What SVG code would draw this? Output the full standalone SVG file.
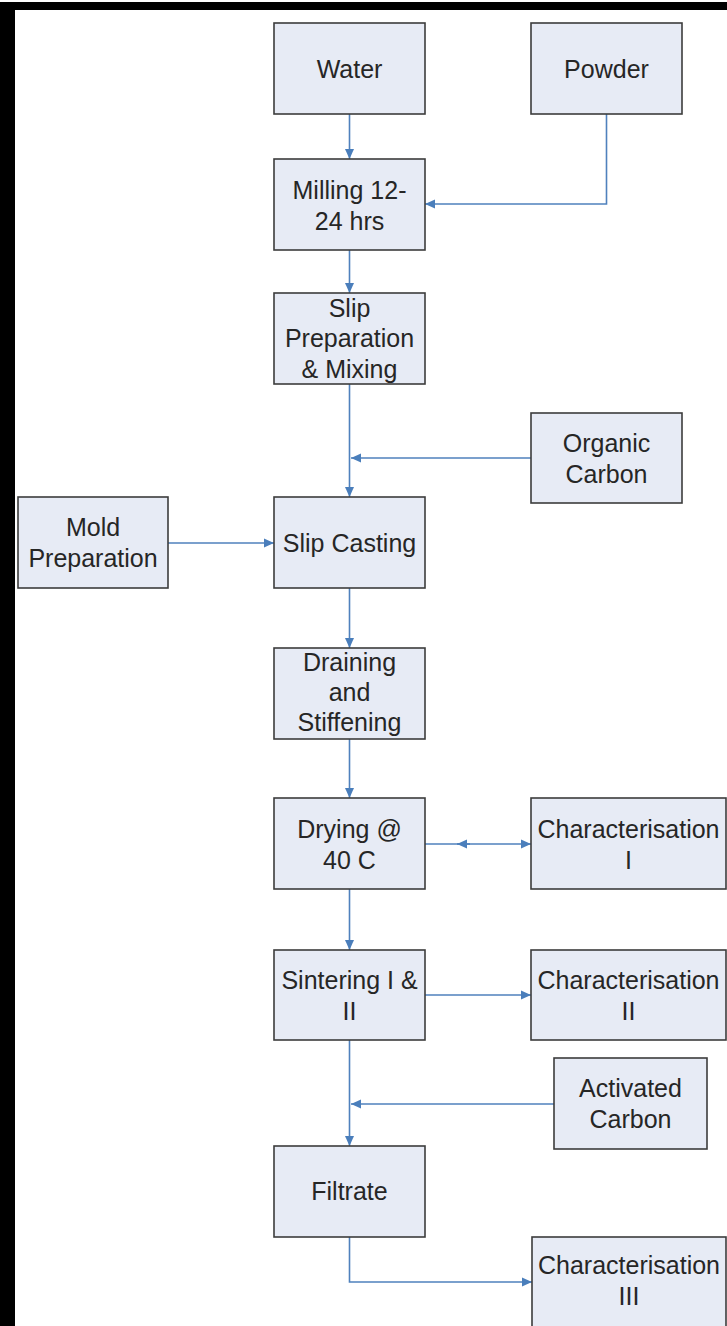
<svg xmlns="http://www.w3.org/2000/svg" width="727" height="1326" viewBox="0 0 727 1326">
  <style>
    .box { fill: #e7ebf5; stroke: #3c3c3c; stroke-width: 1.6; }
    .lbl { font-family: "Liberation Sans", Arial, sans-serif; font-size: 25px; fill: #262626; text-anchor: middle; }
    .conn { fill: none; stroke: #4f81bd; stroke-width: 1.6; marker-end: url(#arr); }
    .plain { fill: none; stroke: #4f81bd; stroke-width: 1.6; }
  </style>
  <defs>
    <marker id="arr" markerUnits="userSpaceOnUse" markerWidth="11" markerHeight="10" refX="10" refY="5" orient="auto">
      <path d="M0,0.5 L10,5 L0,9.5 z" fill="#4a7ebb"/>
    </marker>
  </defs>
  <rect x="0" y="0" width="727" height="1326" fill="#ffffff"/>
  <rect x="0" y="2" width="727" height="8" fill="#000000"/>
  <rect x="0" y="2" width="15" height="1324" fill="#000000"/>

  <g id="connectors">
    <path class="conn" d="M349.5,114 V159"/>
    <path class="conn" d="M606.5,114 V204 H425"/>
    <path class="conn" d="M349.5,250 V293"/>
    <path class="conn" d="M349.5,384 V497"/>
    <path class="conn" d="M531,458 H351"/>
    <path class="conn" d="M168,543 H274"/>
    <path class="conn" d="M349.5,588 V648"/>
    <path class="conn" d="M349.5,739 V798"/>
    <path class="conn" d="M425,844 H531"/>
    <path class="conn" d="M470,844 H457"/>
    <path class="conn" d="M349.5,889 V950"/>
    <path class="conn" d="M425,995 H531"/>
    <path class="conn" d="M349.5,1040 V1146"/>
    <path class="conn" d="M554,1104 H351"/>
    <path class="conn" d="M349.5,1237 V1282 H532"/>
  </g>

  <g id="water">
    <rect class="box" x="274" y="23" width="151" height="91"/>
    <text class="lbl" x="349.5" y="77.5">Water</text>
  </g>
  <g id="powder">
    <rect class="box" x="531" y="23" width="151" height="91"/>
    <text class="lbl" x="606.5" y="77.5">Powder</text>
  </g>
  <g id="milling">
    <rect class="box" x="274" y="159" width="151" height="91"/>
    <text class="lbl" x="349.5" y="198.5">Milling 12-</text>
    <text class="lbl" x="349.5" y="229.5">24 hrs</text>
  </g>
  <g id="slip-prep">
    <rect class="box" x="274" y="293" width="151" height="91"/>
    <text class="lbl" x="349.5" y="316.5">Slip</text>
    <text class="lbl" x="349.5" y="347">Preparation</text>
    <text class="lbl" x="349.5" y="377.5">&amp; Mixing</text>
  </g>
  <g id="organic-carbon">
    <rect class="box" x="531" y="413" width="151" height="90"/>
    <text class="lbl" x="606.5" y="452">Organic</text>
    <text class="lbl" x="606.5" y="483">Carbon</text>
  </g>
  <g id="mold-prep">
    <rect class="box" x="18" y="497" width="150" height="91"/>
    <text class="lbl" x="93" y="536">Mold</text>
    <text class="lbl" x="93" y="567">Preparation</text>
  </g>
  <g id="slip-casting">
    <rect class="box" x="274" y="497" width="151" height="91"/>
    <text class="lbl" x="349.5" y="551.5">Slip Casting</text>
  </g>
  <g id="draining">
    <rect class="box" x="274" y="648" width="151" height="91"/>
    <text class="lbl" x="349.5" y="671">Draining</text>
    <text class="lbl" x="349.5" y="701">and</text>
    <text class="lbl" x="349.5" y="731">Stiffening</text>
  </g>
  <g id="drying">
    <rect class="box" x="274" y="798" width="151" height="91"/>
    <text class="lbl" x="349.5" y="837.5">Drying @</text>
    <text class="lbl" x="349.5" y="868.5">40 C</text>
  </g>
  <g id="char-1">
    <rect class="box" x="531" y="798" width="195" height="91"/>
    <text class="lbl" x="628.5" y="837.5">Characterisation</text>
    <text class="lbl" x="628.5" y="868.5">I</text>
  </g>
  <g id="sintering">
    <rect class="box" x="274" y="950" width="151" height="90"/>
    <text class="lbl" x="349.5" y="989">Sintering I &amp;</text>
    <text class="lbl" x="349.5" y="1020">II</text>
  </g>
  <g id="char-2">
    <rect class="box" x="531" y="950" width="195" height="90"/>
    <text class="lbl" x="628.5" y="989">Characterisation</text>
    <text class="lbl" x="628.5" y="1020">II</text>
  </g>
  <g id="activated-carbon">
    <rect class="box" x="554" y="1058" width="153" height="91"/>
    <text class="lbl" x="630.5" y="1097">Activated</text>
    <text class="lbl" x="630.5" y="1128">Carbon</text>
  </g>
  <g id="filtrate">
    <rect class="box" x="274" y="1146" width="151" height="91"/>
    <text class="lbl" x="349.5" y="1200">Filtrate</text>
  </g>
  <g id="char-3">
    <rect class="box" x="532" y="1237" width="194" height="95"/>
    <text class="lbl" x="629" y="1274">Characterisation</text>
    <text class="lbl" x="629" y="1305">III</text>
  </g>
</svg>
